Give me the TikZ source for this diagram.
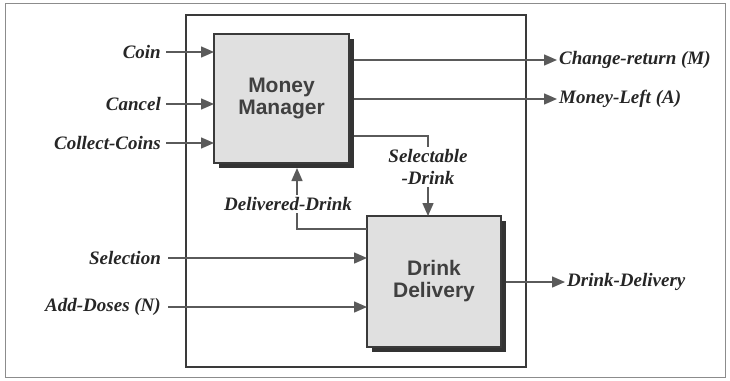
\documentclass[tikz,border=0pt]{standalone}
\usepackage{fontspec}
\setmainfont{Liberation Serif}
\setsansfont{Liberation Sans}
\usetikzlibrary{arrows.meta,shadows}
\definecolor{wiregray}{HTML}{5A5A5A}
\definecolor{boxfill}{HTML}{E0E0E0}
\definecolor{boxline}{HTML}{3A3A3A}
\tikzset{
  lbl/.style={font=\fontsize{19}{22}\selectfont\bfseries\itshape,text=black!85,inner sep=2pt},
  block/.style={draw=boxline,line width=1.8pt,fill=boxfill,inner sep=0pt,outer sep=0pt,
    align=center,text=black!75,font=\fontsize{21}{22}\selectfont\sffamily\bfseries,
    drop shadow={shadow xshift=5pt,shadow yshift=-5pt,fill=black!80,opacity=1}},
  wire/.style={draw=wiregray,line width=1.5pt},
  sig/.style={wire,-{Triangle[length=13pt,width=11pt]}},
}
\begin{document}
\begin{tikzpicture}[x=1pt,y=-1pt]
              \useasboundingbox (0,0) rectangle (730,380);
              \def\sh{5}%shadow width
              \draw[black!45,line width=1pt] (5,3) rectangle (725,377);
              \draw[boxline,line width=1.6pt] (186,15) rectangle (526,367);
              % the two blocks
              \node[block,minimum width=135pt,minimum height=129pt] (mm) at (281.5,98.5) {Money\\Manager};
              \node[block,minimum width=134pt,minimum height=131pt] (dd) at (434,281.5) {Drink\\Delivery};
              % inputs
              \foreach \name/\txt/\y in{coin/Coin/52,cancel/Cancel/104,collect/Collect-Coins/143}{
              \node[lbl,anchor=east] (\name) at (163,\y) {\txt};
              \draw[sig] ([xshift=3pt]\name.east) -- (\name.east -| mm.west);}
              \foreach \name/\txt/\y in{selection/Selection/258,doses/Add-Doses (N)/307}{
              \node[lbl,anchor=east] (\name) at (163,\y) {\txt};
              \draw[sig] ([xshift=5pt]\name.east) -- (\name.east -| dd.west);}
              % outputs
              \node[lbl,anchor=west] (change) at (557,60) {Change-return (M)};
              \node[lbl,anchor=west] (left) at (557,99) {Money-Left (A)};
              \node[lbl,anchor=west] (delivery) at (565,282) {Drink-Delivery};
              \draw[sig] ([xshift=\sh pt]change.west -| mm.east) -- (change.west);
              \draw[sig] ([xshift=\sh pt]left.west -| mm.east) -- (left.west);
              \draw[sig] ([xshift=\sh pt]delivery.west -| dd.east) -- (delivery.west);
              % internal flows
              \node[lbl,align=center] (selectable) at (428,167) {Selectable\\-Drink};
              \coordinate (seltap) at (354,136);
              \draw[wire] (seltap) -| (selectable.north);
              \draw[sig] (selectable.south) -- (selectable.south |- dd.north);
              \node[lbl] (delivered) at (288,204) {Delivered-Drink};
              \coordinate (delbend) at (297,229);
              \draw[wire] (delbend -| dd.west) -- (delbend) -- (delbend |- delivered.south);
              \draw[sig] (delbend |- delivered.north) -- ([yshift=-\sh pt]delbend |- mm.south);
          \end{tikzpicture}
\end{document}
